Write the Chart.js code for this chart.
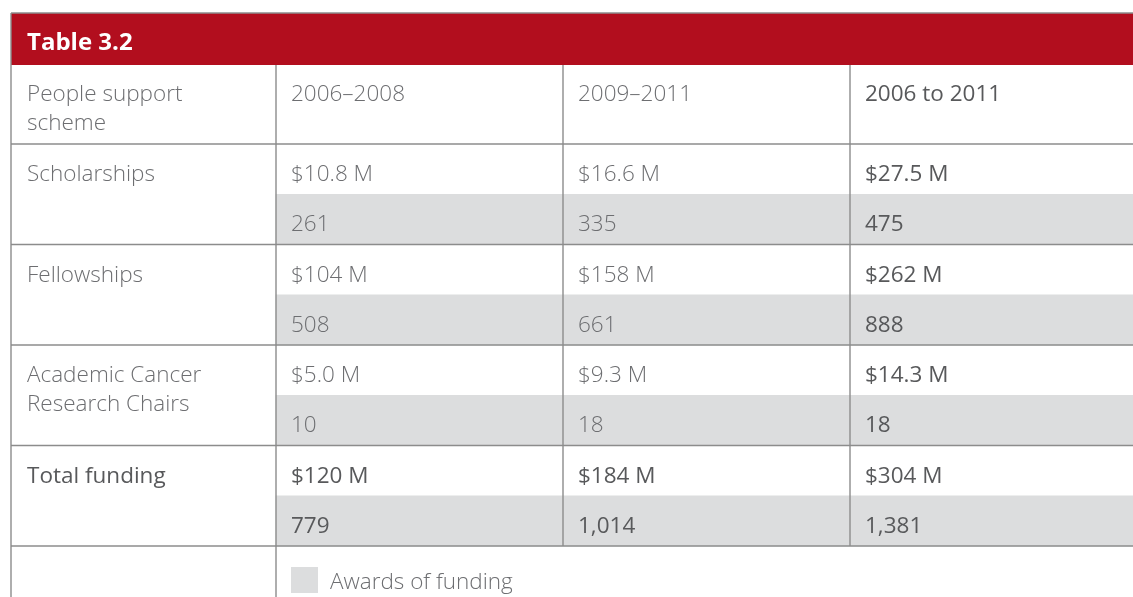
<!DOCTYPE html>
<html>
<head>
<meta charset="utf-8">
<script src="https://cdn.jsdelivr.net/npm/chart.js@4/dist/chart.umd.min.js"></script>
<style>
html,body{margin:0;padding:0;background:#fff;}
#wrap{position:relative;width:1133px;height:597px;}
</style>
</head>
<body>
<div id="wrap"><canvas id="c"></canvas></div>
<script>
// ---- data ----
const tableTitle = 'Table 3.2';
const headerLabel = ['People support', 'scheme'];
const periods = ['2006–2008', '2009–2011', '2006 to 2011'];
const schemes = [['Scholarships'], ['Fellowships'], ['Academic Cancer', 'Research Chairs'], ['Total funding']];
const fundingMillions = [
  [10.8, 16.6, 27.5],
  [104, 158, 262],
  [5.0, 9.3, 14.3],
  [120, 184, 304]
];
const awards = [
  [261, 335, 475],
  [508, 661, 888],
  [10, 18, 18],
  [779, 1014, 1381]
];
const legendLabel = 'Awards of funding';

// ---- layout (table geometry in scale units) ----
const L = {
  width: 1133, height: 597,
  left: 11, bandTop: 13, bandBottom: 65, headBottom: 144, subRow: 50.25,
  colEdges: [11, 276, 563, 850, 1133],
  padX: 16
};
const groupTop = i => L.headBottom + i * 2 * L.subRow;

const fmtMoney = v => '$' + (v < 100 ? v.toFixed(1) : String(v)) + ' M';
const fmtCount = v => v.toLocaleString('en-US');

const FONT = '"Open Sans", "Noto Sans", sans-serif';
const LIGHT = '#6d6e71', DARK = '#58595b', LINE = '#8c8c8c', RED = '#b20e1e', GREY = '#dcddde';

const tablePlugin = {
  id: 'tableDraw',
  beforeDatasetsDraw(chart) {
    const ctx = chart.ctx, xs = chart.scales.x, ys = chart.scales.y;
    const X = v => xs.getPixelForValue(v), Y = v => ys.getPixelForValue(v);
    ctx.save();
    ctx.fillStyle = RED;
    ctx.fillRect(X(L.left), Y(L.bandTop), X(L.width) - X(L.left), Y(L.bandBottom) - Y(L.bandTop));
    ctx.restore();
  },
  afterDatasetsDraw(chart) {
    const ctx = chart.ctx, xs = chart.scales.x, ys = chart.scales.y;
    const X = v => xs.getPixelForValue(v), Y = v => ys.getPixelForValue(v);
    ctx.save();
    ctx.strokeStyle = LINE;
    ctx.lineWidth = 1.4;
    const hline = (y, x0, x1) => { ctx.beginPath(); ctx.moveTo(X(x0), Y(y)); ctx.lineTo(X(x1), Y(y)); ctx.stroke(); };
    const vline = (x, y0, y1) => { ctx.beginPath(); ctx.moveTo(X(x), Y(y0)); ctx.lineTo(X(x), Y(y1)); ctx.stroke(); };
    hline(L.bandTop, L.left, L.width);
    hline(L.headBottom, L.left, L.width);
    for (let i = 1; i <= schemes.length; i++) hline(groupTop(i), L.left, L.width);
    vline(L.left, L.bandTop, L.height);
    vline(L.colEdges[1], L.bandBottom, L.height);
    const bodyEnd = groupTop(schemes.length);
    vline(L.colEdges[2], L.bandBottom, bodyEnd);
    vline(L.colEdges[3], L.bandBottom, bodyEnd);

    // title
    ctx.fillStyle = '#ffffff';
    ctx.font = 'bold 24px ' + FONT;
    ctx.textBaseline = 'alphabetic';
    ctx.fillText(tableTitle, X(L.left + L.padX), Y(L.bandTop + 37));

    const txt = (s, x, y, strong) => {
      ctx.fillStyle = strong ? DARK : LIGHT;
      ctx.font = (strong ? '400 ' : '300 ') + '22.5px ' + FONT;
      ctx.fillText(s, X(x), Y(y));
    };
    headerLabel.forEach((s, k) => txt(s, L.left + L.padX, L.bandBottom + 36 + k * 29, false));
    periods.forEach((s, j) => txt(s, L.colEdges[j + 1] + 15, L.bandBottom + 36, j === 2));
    schemes.forEach((lines, i) => {
      const top = groupTop(i);
      const isTotal = i === schemes.length - 1;
      lines.forEach((s, k) => txt(s, L.left + L.padX, top + 37 + k * 29, isTotal));
      fundingMillions[i].forEach((v, j) => txt(fmtMoney(v), L.colEdges[j + 1] + 15, top + 37, isTotal || j === 2));
      awards[i].forEach((v, j) => txt(fmtCount(v), L.colEdges[j + 1] + 15, top + L.subRow + 37, isTotal || j === 2));
    });
    // legend
    const lt = bodyEnd + 21;
    ctx.fillStyle = GREY;
    ctx.fillRect(X(L.colEdges[1] + 15), Y(lt), X(L.colEdges[1] + 42) - X(L.colEdges[1] + 15), Y(lt + 26) - Y(lt));
    txt(legendLabel, L.colEdges[1] + 54, lt + 22, false);
    ctx.restore();
  }
};

const greyRows = awards.map((row, i) => ({
  y: groupTop(i) + L.subRow * 1.5,
  x: [L.colEdges[1], L.colEdges[4]]
}));

new Chart(document.getElementById('c'), {
  type: 'bar',
  data: {
    datasets: [{
      label: legendLabel,
      data: greyRows,
      backgroundColor: GREY,
      borderWidth: 0,
      barThickness: L.subRow,
      grouped: false
    }]
  },
  options: {
    indexAxis: 'y',
    responsive: true,
    maintainAspectRatio: false,
    animation: false,
    layout: { padding: 0 },
    scales: {
      x: { type: 'linear', min: 0, max: L.width, display: false, offset: false },
      y: { type: 'linear', min: 0, max: L.height, reverse: true, display: false, offset: false }
    },
    plugins: { legend: { display: false }, tooltip: { enabled: false } }
  },
  plugins: [tablePlugin]
});
</script>
</body>
</html>
